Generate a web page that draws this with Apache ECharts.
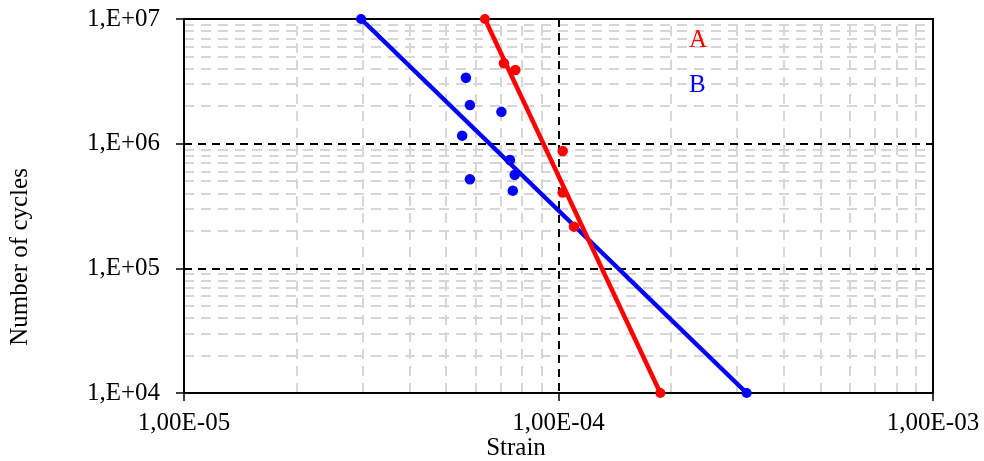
<!DOCTYPE html>
<html>
<head>
<meta charset="utf-8">
<script src="https://cdn.jsdelivr.net/npm/echarts@6/dist/echarts.min.js"></script>
<style>html,body{margin:0;padding:0;background:#fff}#c{width:984px;height:461px}</style>
</head>
<body>
<div id="c"></div>
<script>
// ---- data ----
const seriesNames = ['A', 'B'];
const lineA = [[6.36e-5, 1e7], [1.87e-4, 1e4]];
const lineB = [[2.97e-5, 1e7], [3.18e-4, 1e4]];
const pointsA = [[7.15e-5, 4.42e6], [7.67e-5, 3.90e6], [1.026e-4, 8.74e5], [1.026e-4, 4.05e5], [1.10e-4, 2.16e5]];
const pointsB = [[5.66e-5, 3.38e6], [5.80e-5, 2.04e6], [7.04e-5, 1.80e6], [5.53e-5, 1.16e6], [7.42e-5, 7.40e5],
                 [7.64e-5, 5.64e5], [5.80e-5, 5.18e5], [7.55e-5, 4.20e5]];
const xTickLabels = ['1,00E-05', '1,00E-04', '1,00E-03'];
const yTickLabels = ['1,E+04', '1,E+05', '1,E+06', '1,E+07'];
const xRange = [1e-5, 1e-3];
const yRange = [1e4, 1e7];
const xMinor = [2e-5,3e-5,4e-5,5e-5,6e-5,7e-5,8e-5,9e-5,2e-4,3e-4,4e-4,5e-4,6e-4,7e-4,8e-4,9e-4];
const yMinor = [2e4,3e4,4e4,5e4,6e4,7e4,8e4,9e4,2e5,3e5,4e5,5e5,6e5,7e5,8e5,9e5,2e6,3e6,4e6,5e6,6e6,7e6,8e6,9e6];
const xTitle = 'Strain';
const yTitle = 'Number of cycles';

const RED = '#ff0000', BLUE = '#0000ff';
const FONT = "'Liberation Serif', 'Times New Roman', serif";

const chart = echarts.init(document.getElementById('c'), null, {renderer: 'canvas'});
const minorLines = xMinor.map(v => [{coord: [v, yRange[0]]}, {coord: [v, yRange[1]]}])
  .concat(yMinor.map(v => [{coord: [xRange[0], v]}, {coord: [xRange[1], v]}]));

chart.setOption({
  animation: false,
  backgroundColor: '#fff',
  grid: {left: 184, right: 51, top: 19, bottom: 68, show: true, borderColor: '#000', borderWidth: 2, backgroundColor: 'transparent', z: 1},
  legend: {
    orient: 'vertical', left: 679, top: 23, itemGap: 20, itemWidth: 0, itemHeight: 0, icon: 'none', selectedMode: false,
    data: [
      {name: seriesNames[0], textStyle: {color: RED, fontFamily: FONT, fontSize: 25}},
      {name: seriesNames[1], textStyle: {color: BLUE, fontFamily: FONT, fontSize: 25}}
    ]
  },
  xAxis: {
    type: 'log', logBase: 10, min: xRange[0], max: xRange[1], z: 1,
    axisLine: {show: true, lineStyle: {color: '#000', width: 2}},
    axisTick: {show: true, length: 8, lineStyle: {color: '#000', width: 1.5}},
    axisLabel: {margin: 18, color: '#000', fontFamily: FONT, fontSize: 25,
      formatter: v => xTickLabels[Math.round(Math.log10(v)) + 5]},
    splitLine: {show: true, lineStyle: {color: '#000', width: 2, type: [8, 6]}},
    minorTick: {show: false}, minorSplitLine: {show: false}
  },
  yAxis: {
    type: 'log', logBase: 10, min: yRange[0], max: yRange[1], z: 1,
    axisLine: {show: true, lineStyle: {color: '#000', width: 2}},
    axisTick: {show: true, length: 8, lineStyle: {color: '#000', width: 1.5}},
    axisLabel: {margin: 24, color: '#000', fontFamily: FONT, fontSize: 25,
      formatter: v => yTickLabels[Math.round(Math.log10(v)) - 4]},
    splitLine: {show: true, lineStyle: {color: '#000', width: 2, type: [8, 6]}},
    minorTick: {show: false}, minorSplitLine: {show: false}
  },
  graphic: [
    {type: 'text', x: 516, y: 448, style: {text: xTitle, fill: '#000', font: '25px ' + FONT, align: 'center', verticalAlign: 'middle'}},
    {type: 'text', x: 20, y: 257, rotation: Math.PI / 2, style: {text: yTitle, fill: '#000', font: '25px ' + FONT, align: 'center', verticalAlign: 'middle'}}
  ],
  series: [
    {
      type: 'scatter', name: 'grid', data: [], silent: true, z: 0,
      markLine: {silent: true, symbol: 'none', label: {show: false}, animation: false, z: 0,
        lineStyle: {color: '#d6d6d6', width: 2, type: [10, 7]}, emphasis: {disabled: true}, data: minorLines}
    },
    {type: 'line', name: seriesNames[1], data: lineB, symbol: 'circle', symbolSize: 10, showSymbol: true,
      lineStyle: {color: BLUE, width: 4.5}, itemStyle: {color: BLUE}, z: 3},
    {type: 'line', name: seriesNames[0], data: lineA, symbol: 'circle', symbolSize: 10, showSymbol: true,
      lineStyle: {color: RED, width: 4.5}, itemStyle: {color: RED}, z: 4},
    {type: 'scatter', name: seriesNames[1], data: pointsB, symbol: 'circle', symbolSize: 10.5, itemStyle: {color: BLUE, opacity: 1}, z: 5},
    {type: 'scatter', name: seriesNames[0], data: pointsA, symbol: 'circle', symbolSize: 10.5, itemStyle: {color: RED, opacity: 1}, z: 5}
  ]
});
</script>
</body>
</html>
